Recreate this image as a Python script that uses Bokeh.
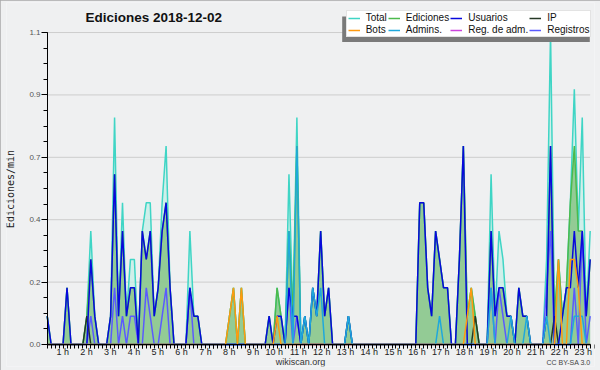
import math
from bokeh.plotting import figure
from bokeh.models import (Range1d, FixedTicker, Label, LabelSet, ColumnDataSource,
                          Legend, LegendItem)
from bokeh.core.properties import value
from bokeh.embed import file_html
from bokeh.resources import INLINE

# Actions per 10-minute slot, one row per hour (00:00 ... 22:50)
total_10min = [
    1, 0, 0, 0, 0, 2,   # 0 h
    0, 0, 0, 0, 1, 4,   # 1 h
    1, 0, 0, 0, 1, 8,   # 2 h
    1, 5, 1, 3, 3, 0,   # 3 h
    4, 5, 5, 1, 2, 5,   # 4 h
    7, 2, 0, 0, 0, 0,   # 5 h
    4, 1, 1, 0, 0, 0,   # 6 h
    0, 0, 0, 0, 1, 2,   # 7 h
    0, 2, 0, 0, 0, 0,   # 8 h
    0, 0, 1, 0, 2, 1,   # 9 h
    0, 6, 1, 8, 0, 1,   # 10 h
    0, 2, 1, 4, 1, 2,   # 11 h
    0, 0, 0, 0, 1, 0,   # 12 h
    0, 0, 0, 0, 0, 0,   # 13 h
    0, 0, 0, 0, 0, 0,   # 14 h
    0, 0, 0, 0, 5, 5,   # 15 h
    2, 1, 4, 3, 2, 2,   # 16 h
    0, 0, 3, 7, 1, 2,   # 17 h
    1, 0, 0, 0, 6, 1,   # 18 h
    4, 3, 1, 1, 0, 2,   # 19 h
    1, 1, 0, 0, 0, 0,   # 20 h
    3, 11, 1, 3, 1, 2,  # 21 h
    5, 9, 4, 8, 1, 4]   # 22 h

ediciones_10min = [
    1, 0, 0, 0, 0, 2,
    0, 0, 0, 0, 1, 3,
    1, 0, 0, 0, 1, 6,
    1, 4, 1, 2, 2, 0,
    4, 3, 4, 1, 2, 4,
    5, 2, 0, 0, 0, 0,
    2, 1, 1, 0, 0, 0,
    0, 0, 0, 0, 1, 2,
    0, 2, 0, 0, 0, 0,
    0, 0, 1, 0, 2, 1,
    0, 4, 1, 7, 0, 1,
    0, 2, 1, 4, 1, 2,
    0, 0, 0, 0, 1, 0,
    0, 0, 0, 0, 0, 0,
    0, 0, 0, 0, 0, 0,
    0, 0, 0, 0, 5, 5,
    2, 1, 4, 3, 2, 2,
    0, 0, 3, 7, 1, 2,
    1, 0, 0, 0, 4, 1,
    2, 2, 1, 1, 0, 2,
    1, 1, 0, 0, 0, 0,
    1, 7, 1, 3, 1, 2,
    5, 7, 4, 4, 1, 3]

usuarios_10min = [
    1, 0, 0, 0, 0, 2,
    0, 0, 0, 0, 0, 3,
    1, 0, 0, 0, 1, 6,
    1, 4, 1, 2, 2, 0,
    4, 3, 4, 1, 2, 4,
    5, 2, 0, 0, 0, 0,
    2, 1, 1, 0, 0, 0,
    0, 0, 0, 0, 0, 0,
    0, 0, 0, 0, 0, 0,
    0, 0, 1, 0, 1, 1,
    0, 2, 1, 1, 0, 1,
    0, 2, 1, 4, 1, 2,
    0, 0, 0, 0, 1, 0,
    0, 0, 0, 0, 0, 0,
    0, 0, 0, 0, 0, 0,
    0, 0, 0, 0, 5, 5,
    2, 1, 4, 3, 2, 2,
    0, 0, 3, 7, 0, 0,
    0, 0, 0, 0, 4, 1,
    2, 2, 1, 1, 0, 2,
    1, 1, 0, 0, 0, 0,
    1, 7, 0, 0, 1, 2,
    2, 4, 2, 4, 1, 3]

ip_10min = [
    0, 0, 0, 0, 0, 0,
    0, 0, 0, 0, 1, 0,
    0, 0, 0, 0, 0, 0,
    0, 0, 0, 0, 0, 0,
    0, 0, 0, 0, 0, 0,
    0, 0, 0, 0, 0, 0,
    0, 0, 0, 0, 0, 0,
    0, 0, 0, 0, 0, 0,
    0, 0, 0, 0, 0, 0,
    0, 0, 0, 0, 0, 0,
    0, 0, 0, 0, 0, 0,
    0, 0, 0, 0, 0, 0,
    0, 0, 0, 0, 0, 0,
    0, 0, 0, 0, 0, 0,
    0, 0, 0, 0, 0, 0,
    0, 0, 0, 0, 0, 0,
    0, 0, 0, 0, 0, 0,
    0, 0, 0, 0, 0, 0,
    1, 0, 0, 0, 0, 0,
    0, 0, 0, 0, 0, 0,
    0, 0, 0, 0, 0, 0,
    0, 0, 1, 0, 0, 0,
    0, 0, 0, 0, 0, 0]

bots_10min = [
    0, 0, 0, 0, 0, 0,
    0, 0, 0, 0, 0, 0,
    0, 0, 0, 0, 0, 0,
    0, 0, 0, 0, 0, 0,
    0, 0, 0, 0, 0, 0,
    0, 0, 0, 0, 0, 0,
    0, 0, 0, 0, 0, 0,
    0, 0, 0, 0, 1, 2,
    0, 2, 0, 0, 0, 0,
    0, 0, 0, 0, 1, 0,
    0, 0, 0, 0, 0, 0,
    0, 0, 0, 0, 0, 0,
    0, 0, 0, 0, 0, 0,
    0, 0, 0, 0, 0, 0,
    0, 0, 0, 0, 0, 0,
    0, 0, 0, 0, 0, 0,
    0, 0, 0, 0, 0, 0,
    0, 0, 0, 0, 1, 2,
    0, 0, 0, 0, 0, 0,
    0, 0, 0, 0, 0, 0,
    0, 0, 0, 0, 0, 0,
    0, 0, 0, 3, 0, 0,
    3, 3, 2, 0, 0, 0]

admins_10min = [
    0, 0, 0, 0, 0, 0,
    0, 0, 0, 0, 0, 0,
    0, 0, 0, 0, 0, 0,
    0, 0, 0, 0, 0, 0,
    0, 0, 0, 0, 0, 0,
    0, 0, 0, 0, 0, 0,
    0, 0, 0, 0, 0, 0,
    0, 0, 0, 0, 0, 0,
    0, 0, 0, 0, 0, 0,
    0, 0, 0, 0, 0, 0,
    0, 4, 0, 7, 0, 1,
    0, 2, 1, 2, 0, 0,
    0, 0, 0, 0, 1, 0,
    0, 0, 0, 0, 0, 0,
    0, 0, 0, 0, 0, 0,
    0, 0, 0, 0, 0, 0,
    0, 0, 0, 1, 0, 0,
    0, 0, 0, 0, 0, 0,
    0, 0, 0, 0, 2, 0,
    0, 0, 0, 1, 0, 0,
    0, 1, 0, 0, 0, 0,
    1, 0, 0, 0, 0, 0,
    0, 1, 1, 1, 0, 0]

reg_adm_10min = [0] * 138

registros_10min = [
    0, 0, 0, 0, 0, 0,
    0, 0, 0, 0, 0, 1,
    0, 0, 0, 0, 0, 2,
    0, 1, 0, 1, 1, 0,
    0, 2, 1, 0, 0, 1,
    2, 0, 0, 0, 0, 0,
    2, 0, 0, 0, 0, 0,
    0, 0, 0, 0, 0, 0,
    0, 0, 0, 0, 0, 0,
    0, 0, 0, 0, 0, 0,
    0, 2, 0, 1, 0, 0,
    0, 0, 0, 0, 0, 0,
    0, 0, 0, 0, 0, 0,
    0, 0, 0, 0, 0, 0,
    0, 0, 0, 0, 0, 0,
    0, 0, 0, 0, 0, 0,
    0, 0, 0, 0, 0, 0,
    0, 0, 0, 0, 0, 0,
    0, 0, 0, 0, 2, 0,
    2, 1, 0, 0, 0, 0,
    0, 0, 0, 0, 0, 0,
    2, 4, 0, 0, 0, 0,
    0, 2, 0, 4, 0, 1]

hour_ticks = list(range(1, 24))
hour_labels = [f"{h} h" for h in hour_ticks]
y_ticks = [0, 0.22, 0.44, 0.66, 0.88, 1.1]
y_tick_labels = ["0.0", "0.2", "0.4", "0.7", "0.9", "1.1"]

# ---------------------------------------------------------------
n = len(total_10min)
slot_hours = [i / 6 for i in range(n)]
x_last = slot_hours[-1]
y_top = y_ticks[-1]


def per_min(a):
    return [v / 10 for v in a]


src = ColumnDataSource(dict(
    x=slot_hours,
    total=per_min(total_10min),
    ed=per_min(ediciones_10min),
    usr=per_min(usuarios_10min),
    ip=per_min(ip_10min),
    bots=per_min(bots_10min),
    adm=per_min(admins_10min),
    regadm=per_min(reg_adm_10min),
    reg=per_min(registros_10min),
))

# geometry (pixels) -------------------------------------------------
W, H = 600, 370
FL, FR, FT, FB = 6, 594, 2, 366          # frame edges on the canvas
X0, PXH = 46.7, 23.78                      # pixel of 0 h, pixels per hour
Y0, PXU = 344.0, 283.6                     # pixel of 0, pixels per unit
x_range = Range1d((FL - X0) / PXH, (FR - X0) / PXH)
y_range = Range1d((Y0 - FB) / PXU, (Y0 - FT) / PXU)


def fx(px):   # canvas x -> frame screen x
    return px - FL


def fy(py):   # canvas y -> frame screen y (from bottom)
    return FB - py


def dx(px):   # canvas x -> data x
    return (px - X0) / PXH


def dy(py):   # canvas y -> data y
    return (Y0 - py) / PXU


FONT = "Liberation Sans"

p = figure(width=W, height=H, output_backend="svg", toolbar_location=None,
           x_range=x_range, y_range=y_range,
           min_border_left=FL, min_border_right=W - FR,
           min_border_top=FT, min_border_bottom=H - FB)
p.background_fill_color = "#eff0f1"
p.border_fill_color = "#eff0f1"
p.outline_line_color = None
p.xgrid.visible = False
p.ygrid.visible = False
p.styles = {"outline": "2px solid #a9a9a9", "outline-offset": "-2px"}

# horizontal grid lines at the y ticks, across the data span
grid_y = y_ticks[1:]
p.segment(x0=[0] * len(grid_y), x1=[x_last] * len(grid_y), y0=grid_y, y1=grid_y,
          line_color="#cdcdcd", line_width=1)

# areas
p.varea(x="x", y1=0, y2="total", source=src, fill_color="#c6efe7", fill_alpha=0.75)
p.varea(x="x", y1=0, y2="ed", source=src, fill_color="#8cc68c", fill_alpha=0.9)

lw = 1.5
r_total = p.line("x", "total", source=src, line_color="#3fd5c5", line_width=lw)
r_ed = p.line("x", "ed", source=src, line_color="#4cba4c", line_width=lw)
r_regadm = p.line("x", "regadm", source=src, line_color="#cc44dd", line_width=lw)
r_reg = p.line("x", "reg", source=src, line_color="#5a5aff", line_width=lw)
r_ip = p.line("x", "ip", source=src, line_color="#263826", line_width=lw)
r_usr = p.line("x", "usr", source=src, line_color="#0808dd", line_width=lw)
r_adm = p.line("x", "adm", source=src, line_color="#1fa8dc", line_width=lw)
r_bots = p.line("x", "bots", source=src, line_color="#ff9a10", line_width=lw)

# drop shadow of the legend box (drawn over the data, under the legend)
p.quad(left=[dx(341.7)], right=[dx(589.3)], bottom=[dy(41.5)], top=[dy(16)],
       fill_color="#7a7a7a", fill_alpha=1, line_color=None)

# axes (drawn at the data origin, labels as text sets)
xa = p.xaxis[0]
xa.fixed_location = 0
xa.bounds = (0, x_last)
xa.ticker = FixedTicker(ticks=hour_ticks, minor_ticks=slot_hours)
xa.major_label_overrides = {h: "" for h in hour_ticks}
xa.axis_line_color = "black"
xa.major_tick_line_color = "black"
xa.minor_tick_line_color = "black"
xa.major_tick_out = 4
xa.major_tick_in = 0
xa.minor_tick_out = 4
xa.minor_tick_in = 0

ya = p.yaxis[0]
ya.fixed_location = 0
ya.bounds = (0, y_top)
ya.ticker = FixedTicker(ticks=y_ticks, minor_ticks=[t * 0.055 for t in range(21)])
ya.major_label_overrides = {t: "" for t in y_ticks}
ya.axis_line_color = "black"
ya.major_tick_line_color = "black"
ya.minor_tick_line_color = "black"
ya.major_tick_out = 6
ya.major_tick_in = 0
ya.minor_tick_out = 4
ya.minor_tick_in = 0

# tick labels
p.add_layout(LabelSet(x="x", y=fy(351), y_units="screen", text="t",
                      source=ColumnDataSource(dict(x=hour_ticks, t=hour_labels)),
                      text_align="right", text_baseline="middle", x_offset=-2,
                      text_font=value(FONT), text_font_size="9px", text_color="#222222"))
p.add_layout(LabelSet(x=fx(40), x_units="screen", y="y", text="t",
                      source=ColumnDataSource(dict(y=y_ticks, t=y_tick_labels)),
                      text_align="right", text_baseline="middle",
                      text_font=value(FONT), text_font_size="8px", text_color="#555555"))

# title, axis title and footers
p.add_layout(Label(x=fx(85), y=fy(16.7), x_units="screen", y_units="screen",
                   text="Ediciones  2018-12-02", text_font=FONT,
                   text_font_size="13.5px", text_font_style="bold",
                   text_align="left", text_baseline="middle", text_color="#111111"))
p.add_layout(Label(x=fx(10), y=fy(188.5), x_units="screen", y_units="screen",
                   text="Ediciones/min", angle=math.pi / 2,
                   text_font="DejaVu Sans Mono", text_font_size="10px",
                   text_align="center", text_baseline="middle", text_color="#222222"))
p.add_layout(Label(x=fx(300), y=fy(361), x_units="screen", y_units="screen",
                   text="wikiscan.org", text_font=FONT, text_font_size="9px",
                   text_align="center", text_baseline="middle", text_color="#333333"))
p.add_layout(Label(x=fx(590), y=fy(362), x_units="screen", y_units="screen",
                   text="CC BY-SA 3.0", text_font=FONT, text_font_size="7px",
                   text_align="right", text_baseline="middle", text_color="#444444"))

legend = Legend(items=[
    LegendItem(label="Total", renderers=[r_total]),
    LegendItem(label="Ediciones", renderers=[r_ed]),
    LegendItem(label="Usuarios", renderers=[r_usr]),
    LegendItem(label="IP", renderers=[r_ip]),
    LegendItem(label="Bots", renderers=[r_bots]),
    LegendItem(label="Admins.", renderers=[r_adm]),
    LegendItem(label="Reg. de adm.", renderers=[r_regadm]),
    LegendItem(label="Registros", renderers=[r_reg]),
], location=(fx(345.7), fy(37.3)), orientation="horizontal", ncols=4,
    label_text_font=FONT, label_text_font_size="10px", label_text_color="#111111",
    label_text_line_height=1.0,
    glyph_width=12, glyph_height=10, label_height=10, label_standoff=6,
    spacing=1, padding=1, margin=0,
    border_line_color="#c8c8c8", background_fill_color="white", background_fill_alpha=1)
p.add_layout(legend)

open("out.html", "w").write(file_html(p, INLINE))
